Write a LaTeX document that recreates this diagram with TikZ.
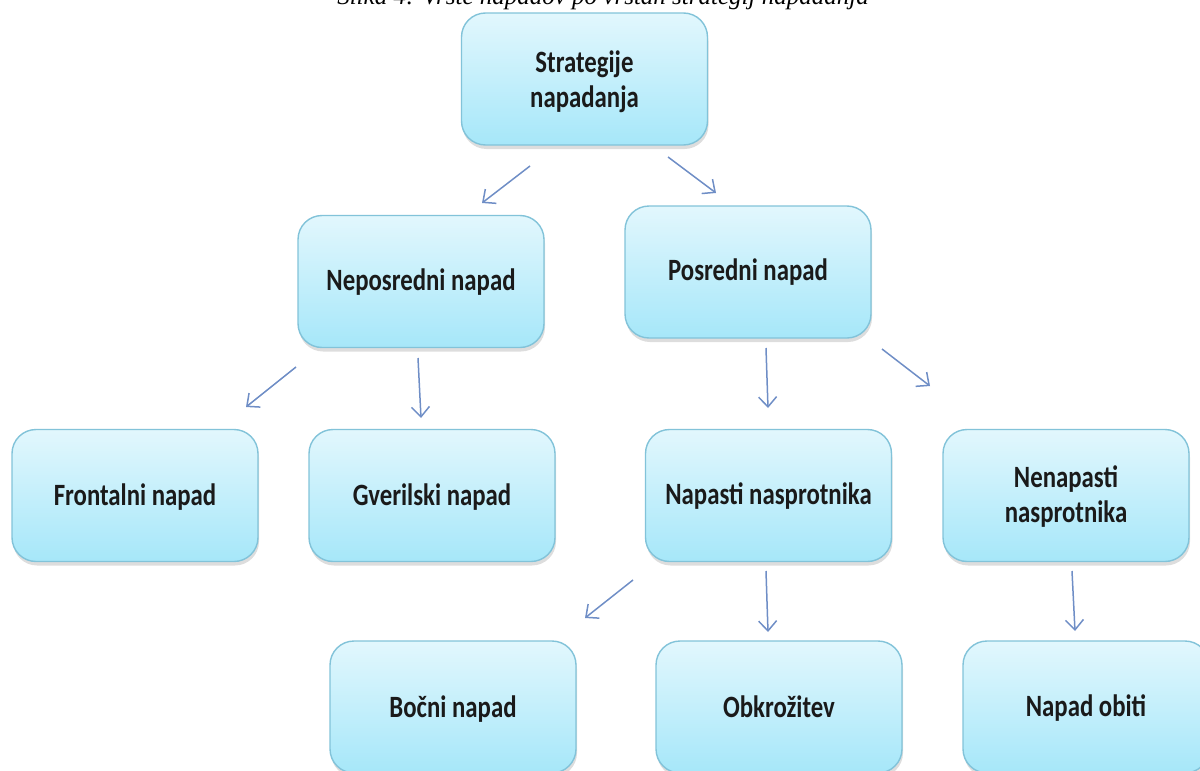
\documentclass[tikz,border=0pt]{standalone}
\usepackage{fontspec}
\setmainfont{Liberation Serif}
\newfontfamily\boxfont[FakeStretch=0.8]{Carlito}
\usetikzlibrary{arrows.meta,shadows}
\definecolor{boxtop}{HTML}{E2F7FD}
\definecolor{boxbot}{HTML}{A6E7F9}
\definecolor{boxline}{HTML}{82C3D9}
\definecolor{arrowc}{HTML}{6F8EC6}
\definecolor{txt}{HTML}{1A1A1A}
\newcommand{\lowr}[2]{\raisebox{-#1}[\height][\depth]{#2}}
\tikzset{
  stratbox/.style={rectangle, rounded corners=24pt, minimum width=246pt, minimum height=132pt,
    top color=boxtop, bottom color=boxbot, draw=boxline, line width=1.4pt,
    drop shadow={shadow xshift=1pt, shadow yshift=-4pt, opacity=0.22, fill=black!60},
    align=center, text=txt, font=\boxfont\bfseries\fontsize{31}{34}\selectfont},
  flowarrow/.style={draw=arrowc, line width=1.5pt, -{Straight Barb[length=10pt,width=18pt,line width=1.5pt]}},
  capt/.style={font=\itshape\fontsize{25}{28}\selectfont, anchor=base}
}
\begin{document}
\begin{tikzpicture}[x=1pt,y=-1pt]
\useasboundingbox (0,0) rectangle (1200,771);
\clip (0,0) rectangle (1200,771);
\node[capt] (cap) at (603,5) {Slika 4: Vrste napadov po vrstah strategij napadanja};

\node[stratbox] (sn) at (584.5,79) {\lowr{4pt}{\begin{tabular}{c}Strategije\\[1pt]napadanja\end{tabular}}};
\node[stratbox] (nn) at (421,281.5) {\lowr{1pt}{Neposredni napad}};
\node[stratbox] (pn) at (748,272) {\lowr{0pt}{Posredni napad}};
\node[stratbox] (fn) at (135,495.5) {\lowr{2pt}{Frontalni napad}};
\node[stratbox] (gn) at (432,495.5) {\lowr{2pt}{Gverilski napad}};
\node[stratbox] (nap) at (768.5,495.5) {\lowr{1pt}{Napasti nasprotnika}};
\node[stratbox] (nen) at (1066,495.5) {\lowr{3pt}{\begin{tabular}{c}Nenapasti\\[1pt]nasprotnika\end{tabular}}};
\node[stratbox] (bn) at (453,707) {\lowr{2pt}{Bočni napad}};
\node[stratbox] (ob) at (779,707) {\lowr{0pt}{Obkrožitev}};
\node[stratbox] (no) at (1086,707) {\lowr{1pt}{Napad obiti}};

% arrow end points
\coordinate (a1s) at (530,166); \coordinate (a1e) at (482,203);
\coordinate (a2s) at (668,157); \coordinate (a2e) at (716,193);
\coordinate (a3s) at (296,367); \coordinate (a3e) at (246,407);
\coordinate (a4s) at (418,358); \coordinate (a4e) at (421,418);
\coordinate (a5s) at (766,348); \coordinate (a5e) at (768,408);
\coordinate (a6s) at (882,349); \coordinate (a6e) at (930,386);
\coordinate (a7s) at (633,580); \coordinate (a7e) at (585,618);
\coordinate (a8s) at (766,571); \coordinate (a8e) at (768,632);
\coordinate (a9s) at (1072,571); \coordinate (a9e) at (1075,631);
\foreach \i in {1,...,9} {\draw[flowarrow] (a\i s) -- (a\i e);}
\end{tikzpicture}
\end{document}
